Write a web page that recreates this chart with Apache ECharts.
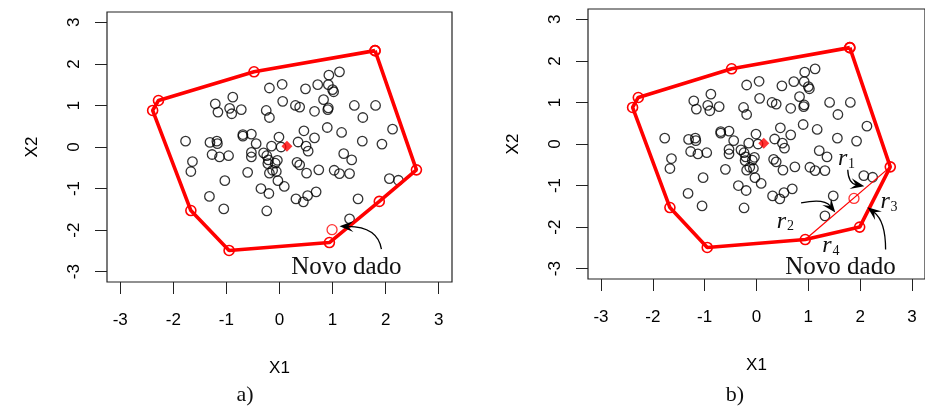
<!DOCTYPE html>
<html>
<head>
<meta charset="utf-8">
<script src="https://cdn.jsdelivr.net/npm/echarts@6/dist/echarts.min.js"></script>
<style>
  html, body { margin: 0; padding: 0; background: #fff; }
  #main { width: 925px; height: 409px; }
</style>
</head>
<body>
<div id="main"></div>
<script>
// Tick marks on both axes
const tickValues = [-3, -2, -1, 0, 1, 2, 3];

// Observed sample (interior points), X1 and X2
const x1Obs = [1.13, 0.93, 0.05, -0.19, 0.49, 0.72, 0.92, 1.00, 1.02, -0.88,
  0.83, 0.06, -1.21, -0.94, -1.16, -0.90, -0.72, -0.25, -0.19, 0.30,
  0.38, 0.66, 0.92, 0.91, 1.41, 1.81, 1.57, 2.13, 0.90, 1.17,
  0.46, 0.66, 0.35, 0.50, 0.54, 1.56, 1.93, -0.01, -0.15, 0.03,
  -0.44, -0.53, -0.69, -0.69, -1.77, -1.31, -1.18, -1.17, -1.27, -1.13,
  -0.96, -0.53, -0.53, -0.30, -0.24, -0.21, -0.22, -0.08, -0.04, -0.13,
  -0.19, -0.06, -0.03, 0.09, -0.35, -0.20, -0.60, -1.03, -1.64, -1.67,
  -1.32, -1.05, -0.24, 0.33, 0.38, 0.51, 0.74, 1.03, 1.13, 1.21,
  1.36, 1.32, 0.31, 0.45, 0.53, 0.69, 1.48, 2.07, 2.24, 1.32];
const x2Obs = [1.81, 1.73, 1.51, 1.42, 1.40, 1.50, 1.50, 1.38, 1.33, 1.20,
  1.14, 1.10, 1.04, 0.93, 0.84, 0.80, 0.90, 0.88, 0.71, 1.00,
  0.96, 0.86, 0.94, 0.90, 1.00, 1.00, 0.71, 0.43, 0.47, 0.35,
  0.39, 0.22, 0.12, 0.02, -0.10, 0.14, 0.07, 0.24, 0.02, 0.00,
  0.08, 0.31, 0.30, 0.26, 0.14, 0.11, 0.14, 0.08, -0.18, -0.24,
  -0.21, -0.13, -0.24, -0.14, -0.21, -0.31, -0.40, -0.39, -0.32, -0.56,
  -0.63, -0.59, -0.81, -0.95, -1.00, -1.12, -0.61, -0.81, -0.35, -0.59,
  -1.19, -1.49, -1.54, -0.37, -0.43, -0.63, -0.55, -0.56, -0.64, -0.16,
  -0.31, -0.64, -1.25, -1.32, -1.17, -1.08, -1.25, -0.76, -0.80, -1.73];

// Convex hull vertices, panel a (closed)
const hullA_X1 = [1.80, -0.48, -2.28, -2.39, -1.67, -0.95, 0.94, 1.88, 2.58, 1.80];
const hullA_X2 = [2.32, 1.81, 1.12, 0.88, -1.53, -2.49, -2.30, -1.31, -0.55, 2.32];
// Convex hull vertices, panel b (closed)
const hullB_X1 = [1.80, -0.48, -2.28, -2.39, -1.67, -0.95, 0.94, 1.99, 2.58, 1.80];
const hullB_X2 = [2.32, 1.81, 1.12, 0.88, -1.53, -2.49, -2.30, -2.00, -0.55, 2.32];
// Previous hull edge replaced in panel b
const oldEdgeB_X1 = [0.94, 2.58];
const oldEdgeB_X2 = [-2.30, -0.55];

// New observation in each panel
const newA = [0.99, -1.99];
const newB = [1.88, -1.31];
// Sample centre
const centre = [0.14, 0.02];

const zip = (a, b) => a.map((v, i) => [v, b[i]]);

const SANS = 'Liberation Sans';
const SERIF = 'Liberation Serif';

function xAxisFor(g) {
  return {
    type: 'value', gridIndex: g, min: -3.25, max: 3.25, position: 'bottom',
    name: 'X1', nameLocation: 'middle', nameGap: 78,
    nameTextStyle: { fontFamily: SANS, fontSize: 17, color: '#000' },
    axisLine: { show: false, onZero: false },
    axisTick: { show: true, inside: false, length: 12, customValues: tickValues,
      lineStyle: { color: '#222', width: 1 } },
    axisLabel: { show: true, customValues: tickValues, margin: 30,
      fontFamily: SANS, fontSize: 17, color: '#000' },
    splitLine: { show: false }
  };
}
function yAxisFor(g) {
  return {
    type: 'value', gridIndex: g, min: -3.25, max: 3.25, position: 'left',
    name: 'X2', nameLocation: 'middle', nameGap: 66, nameRotate: 90,
    nameTextStyle: { fontFamily: SANS, fontSize: 17, color: '#000' },
    axisLine: { show: false, onZero: false },
    axisTick: { show: true, inside: false, length: 12, customValues: tickValues,
      lineStyle: { color: '#222', width: 1 } },
    axisLabel: { show: true, customValues: tickValues, margin: 24, rotate: 90,
      fontFamily: SANS, fontSize: 17, color: '#000' },
    splitLine: { show: false }
  };
}

function panelSeries(g, hx, hy, newPt, extra) {
  const s = [
    { type: 'scatter', xAxisIndex: g, yAxisIndex: g, data: zip(x1Obs, x2Obs),
      symbol: 'circle', symbolSize: 9.5, silent: true, z: 2,
      itemStyle: { color: 'rgba(0,0,0,0)', borderColor: '#000', borderWidth: 1.3 } },
    { type: 'line', xAxisIndex: g, yAxisIndex: g, data: zip(hx, hy),
      symbol: 'circle', symbolSize: 10, silent: true, z: 4, animation: false,
      lineStyle: { color: '#ff0000', width: 3.6 },
      itemStyle: { color: 'rgba(0,0,0,0)', borderColor: '#ff0000', borderWidth: 1.6 } },
    { type: 'scatter', xAxisIndex: g, yAxisIndex: g, data: [newPt],
      symbol: 'circle', symbolSize: 10, silent: true, z: 5,
      itemStyle: { color: 'rgba(0,0,0,0)', borderColor: '#ff0000', borderWidth: 1.3 } },
    { type: 'scatter', xAxisIndex: g, yAxisIndex: g, data: [centre],
      symbol: 'diamond', symbolSize: 11, silent: true, z: 5,
      itemStyle: { color: '#ff0000' } }
  ];
  return s.concat(extra || []);
}

const option = {
  animation: false,
  backgroundColor: '#fff',
  grid: [
    { left: 107, top: 12, width: 345, height: 270, show: true,
      borderColor: '#222', borderWidth: 1.2, backgroundColor: 'transparent' },
    { left: 588, top: 9, width: 346, height: 270, show: true,
      borderColor: '#222', borderWidth: 1.2, backgroundColor: 'transparent' }
  ],
  xAxis: [xAxisFor(0), xAxisFor(1)],
  yAxis: [yAxisFor(0), yAxisFor(1)],
  series: panelSeries(0, hullA_X1, hullA_X2, newA).concat(
    panelSeries(1, hullB_X1, hullB_X2, newB, [
      { type: 'line', xAxisIndex: 1, yAxisIndex: 1, data: zip(oldEdgeB_X1, oldEdgeB_X2),
        symbol: 'none', silent: true, z: 3,
        lineStyle: { color: '#ff0000', width: 1.2 } }
    ]))
};

const chart = echarts.init(document.getElementById('main'), null, { renderer: 'canvas' });
chart.setOption(option);

// Annotations, anchored in data coordinates of each panel
const px = (g, p) => chart.convertToPixel({ gridIndex: g }, p);

function arrow(g, from, ctrl, tip) {
  const a = px(g, from), c = px(g, ctrl), t = px(g, tip);
  const dx = t[0] - c[0], dy = t[1] - c[1];
  const len = Math.hypot(dx, dy), ux = dx / len, uy = dy / len;
  const L = 14, W = 5.5;
  const base = [t[0] - ux * L * 0.6, t[1] - uy * L * 0.6];
  return [
    { type: 'bezierCurve', silent: true, z: 10,
      shape: { x1: a[0], y1: a[1], x2: base[0], y2: base[1], cpx1: c[0], cpy1: c[1] },
      style: { stroke: '#000', lineWidth: 1.3, fill: 'none' } },
    { type: 'polygon', silent: true, z: 10,
      shape: { points: [t,
        [t[0] - ux * L - uy * W, t[1] - uy * L + ux * W],
        base,
        [t[0] - ux * L + uy * W, t[1] - uy * L - ux * W]] },
      style: { fill: '#000' } }
  ];
}
function label(g, p, text, size) {
  const q = px(g, p);
  return { type: 'text', x: q[0], y: q[1], silent: true, z: 10,
    style: { text: text, fontFamily: SERIF, fontSize: size, fill: '#111',
      align: 'center', verticalAlign: 'middle' } };
}
function rLabel(g, p, sub) {
  const q = px(g, p);
  return [
    { type: 'text', x: q[0], y: q[1], silent: true, z: 10,
      style: { text: 'r', fontFamily: SERIF, fontStyle: 'italic', fontSize: 24, fill: '#111',
        align: 'center', verticalAlign: 'middle' } },
    { type: 'text', x: q[0] + 9, y: q[1] + 5, silent: true, z: 10,
      style: { text: sub, fontFamily: SERIF, fontSize: 14, fill: '#111',
        align: 'center', verticalAlign: 'middle' } }
  ];
}

const graphics = [].concat(
  label(0, [1.26, -2.90], 'Novo dado', 25),
  arrow(0, [1.92, -2.46], [1.85, -1.92], [1.13, -1.91]),
  label(1, [1.62, -2.96], 'Novo dado', 25),
  arrow(1, [2.49, -2.54], [2.49, -1.86], [2.14, -1.52]),
  arrow(1, [1.76, -0.62], [1.77, -0.94], [2.08, -1.02]),
  arrow(1, [0.86, -1.42], [1.30, -1.30], [1.52, -1.65]),
  rLabel(1, [1.66, -0.36], '1'),
  rLabel(1, [0.48, -1.86], '2'),
  rLabel(1, [2.48, -1.40], '3'),
  rLabel(1, [1.36, -2.46], '4'),
  [
    { type: 'text', x: 245, y: 395, silent: true,
      style: { text: 'a)', fontFamily: SERIF, fontSize: 22, fill: '#111', align: 'center', verticalAlign: 'middle' } },
    { type: 'text', x: 735, y: 395, silent: true,
      style: { text: 'b)', fontFamily: SERIF, fontSize: 22, fill: '#111', align: 'center', verticalAlign: 'middle' } }
  ]
);
chart.setOption({ graphic: graphics });
</script>
</body>
</html>
